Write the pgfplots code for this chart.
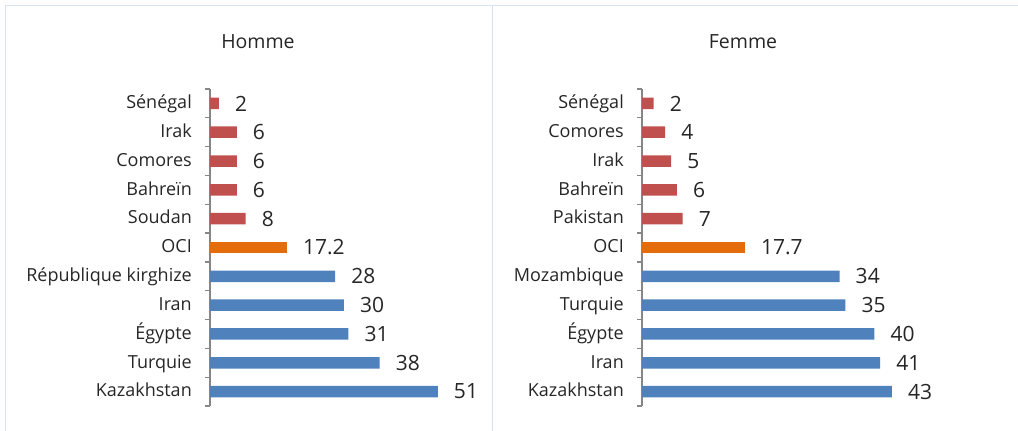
\documentclass[border=0pt]{standalone}
\usepackage{fontspec}
\setmainfont{Open Sans}
\usepackage{pgfplots}
\pgfplotsset{compat=1.18}
\definecolor{cred}{HTML}{C0504D}
\definecolor{corange}{HTML}{E46C0A}
\definecolor{cblue}{HTML}{4F81BD}
\definecolor{cborder}{HTML}{D9E2F3}
\definecolor{caxis}{HTML}{868686}
\definecolor{ctext}{HTML}{262626}
\pgfplotsset{mystyle/.style={
  scale only axis, height=317pt, xmin=0, ymin=-0.5, ymax=10.5,
  xbar, bar width=11.5pt,
  axis x line=none, axis y line*=left,
  ytick={0,...,10}, major tick length=0pt,
  minor ytick={-0.5,0.5,...,10.5}, minor tick length=5pt, tick align=outside,
  axis line style={caxis, line width=1.3pt},
  every minor tick/.append style={caxis, line width=1.3pt},
  yticklabel style={font=\fontsize{18}{20}\selectfont, text=ctext, inner sep=0pt,
    text height=12pt, text depth=1.5pt, xshift=-18pt},
  nodes near coords,
  nodes near coords style={font=\fontsize{21}{23}\selectfont, text=ctext, anchor=west, inner sep=0pt, xshift=16pt},
  /pgf/number format/assume math mode=true,
  /pgf/number format/fixed,
  point meta=x, clip=false,
}}
\begin{document}
\begin{tikzpicture}
\useasboundingbox (0pt,0pt) rectangle (1018pt,431pt);
\draw[cborder, line width=1.5pt] (5.5pt,-10pt) -- (5.5pt,425.5pt) -- (1030pt,425.5pt);
\draw[cborder, line width=1.5pt] (492.5pt,-10pt) -- (492.5pt,425.5pt);
\node[font=\fontsize{19.5}{21}\selectfont, text=ctext] at (258pt,389pt) {Homme};
\node[font=\fontsize{19.5}{21}\selectfont, text=ctext] at (743pt,389pt) {Femme};

\begin{axis}[mystyle, at={(210pt,25pt)}, anchor=south west, width=268pt, xmax=60,
  yticklabels={Kazakhstan,Turquie,Égypte,Iran,République kirghize,OCI,Soudan,Bahreïn,Comores,Irak,Sénégal}]
\addplot[fill=cblue, draw=none, bar shift=0pt] coordinates {(51,0) (38,1) (31,2) (30,3) (28,4)};
\addplot[fill=corange, draw=none, bar shift=0pt] coordinates {(17.2,5)};
\addplot[fill=cred, draw=none, bar shift=0pt] coordinates {(8,6) (6,7) (6,8) (6,9) (2,10)};
\end{axis}

\begin{axis}[mystyle, at={(642pt,25pt)}, anchor=south west, width=290.5pt, xmax=50,
  yticklabels={Kazakhstan,Iran,Égypte,Turquie,Mozambique,OCI,Pakistan,Bahreïn,Irak,Comores,Sénégal}]
\addplot[fill=cblue, draw=none, bar shift=0pt] coordinates {(43,0) (41,1) (40,2) (35,3) (34,4)};
\addplot[fill=corange, draw=none, bar shift=0pt] coordinates {(17.7,5)};
\addplot[fill=cred, draw=none, bar shift=0pt] coordinates {(7,6) (6,7) (5,8) (4,9) (2,10)};
\end{axis}
\end{tikzpicture}
\end{document}
